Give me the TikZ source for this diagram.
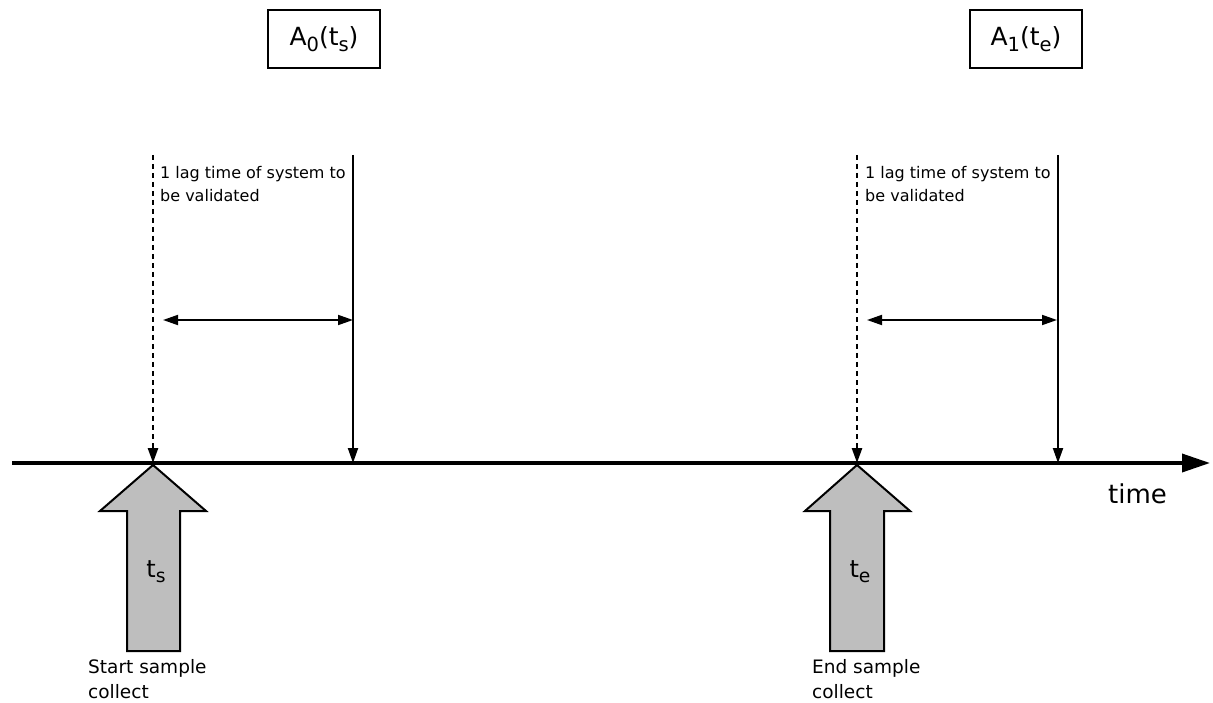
\documentclass[tikz,border=0pt]{standalone}
\usepackage{fontspec}
\setmainfont{DejaVu Sans}
\usetikzlibrary{arrows.meta,positioning}

\definecolor{arrowgray}{RGB}{190,190,190}
\newcommand\lowsub[1]{\raisebox{-0.22em}{\scalebox{0.78}{#1}}}

\begin{document}
\begin{tikzpicture}[x=1pt,y=-1pt,
  axis/.style={line width=3.6pt,-{Triangle[length=28pt,width=18pt]}},
  marker/.style={line width=2pt,-{Triangle[length=15pt,width=10pt]}},
  lagmarker/.style={marker,dash pattern=on 5pt off 4pt,line width=2.6pt},
  span/.style={line width=1.8pt,{Triangle[length=15pt,width=10pt]}-{Triangle[length=15pt,width=10pt]}},
  samplebox/.style={draw,line width=1.8pt,minimum width=112pt,minimum height=58pt,
    inner sep=0pt,font=\fontsize{25}{30}\selectfont},
  lagtext/.style={anchor=north west,align=left,inner sep=0pt,
    font=\fontsize{16}{23}\selectfont},
  eventtext/.style={anchor=north west,align=left,inner sep=0pt,
    font=\fontsize{18.5}{25}\selectfont},
  bigarrow/.style={draw,line width=2pt,fill=arrowgray,line join=miter}]
\useasboundingbox (0,0) rectangle (1213,703);

% time axis
\coordinate (origin) at (12,463);
\coordinate (tip) at (1210,463);
\draw[axis] (origin) -- (tip);
\node[anchor=base west,inner sep=0pt,font=\fontsize{26}{30}\selectfont] (time) at (1108,503) {time};

% start of sampling
\coordinate (ts) at (153,463);
\coordinate (ts top) at (153,155);
\coordinate (lag0) at (353,463);
\coordinate (lag0 top) at (353,155);
\draw[lagmarker] (ts top) -- (ts);
\draw[marker] (lag0 top) -- (lag0);
\coordinate (span0 left) at (163,320);
\coordinate (span0 right) at (353,320);
\draw[span] (span0 left) -- (span0 right);
\node[lagtext] (lagnote0) at (160,166) {1 lag time of system to\\be validated};
\node[samplebox] (A0) at (324,39) {A\lowsub{0}(t\lowsub{s})};
\draw[bigarrow] (153,465) -- (206,511) -- (180,511) -- (180,651)
  -- (127,651) -- (127,511) -- (100,511) -- cycle;
\node[font=\fontsize{24}{28}\selectfont] (tslabel) at (156,572) {t\lowsub{s}};
\node[eventtext] (startnote) at (88,659) {Start sample\\collect};

% end of sampling
\coordinate (te) at (857,463);
\coordinate (te top) at (857,155);
\coordinate (lag1) at (1058,463);
\coordinate (lag1 top) at (1058,155);
\draw[lagmarker] (te top) -- (te);
\draw[marker] (lag1 top) -- (lag1);
\coordinate (span1 left) at (867,320);
\coordinate (span1 right) at (1057,320);
\draw[span] (span1 left) -- (span1 right);
\node[lagtext] (lagnote1) at (865,166) {1 lag time of system to\\be validated};
\node[samplebox] (A1) at (1026,39) {A\lowsub{1}(t\lowsub{e})};
\draw[bigarrow] (857,465) -- (910,511) -- (884,511) -- (884,651)
  -- (830,651) -- (830,511) -- (805,511) -- cycle;
\node[font=\fontsize{24}{28}\selectfont] (telabel) at (860,572) {t\lowsub{e}};
\node[eventtext] (endnote) at (812,659) {End sample\\collect};
\end{tikzpicture}
\end{document}
